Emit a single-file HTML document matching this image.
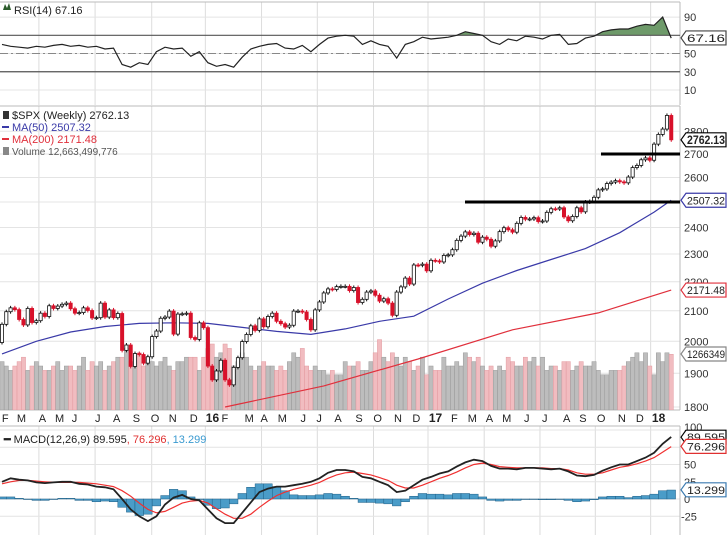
<!DOCTYPE html>
<html><head><meta charset="utf-8"><style>
html,body{margin:0;padding:0;background:#fff;}
svg{display:block;font-family:"Liberation Sans",sans-serif;}
</style></head><body>
<svg id="c" width="727" height="535" viewBox="0 0 727 535"></svg>
<script>
// ---- data ----
const closes = [2055,2097,2110,2104,2071,2053,2108,2061,2067,2092,2081,2117,2108,2116,2122,2126,2107,2092,2094,2110,2101,2076,2077,2126,2079,2103,2077,2091,1971,1988,1921,1961,1958,1931,1951,2015,2033,2075,2079,2099,2023,2089,2090,2092,2012,2006,2060,
2044,1922,1880,1907,1940,1880,1865,1918,1948,1999,2022,2050,2035,2073,2047,2081,2092,2065,2057,2046,2052,2099,2099,2096,2071,2037,2103,2130,2161,2175,2173,2183,2184,2184,2169,2180,2128,2139,2164,2168,2153,2133,2141,2126,2085,2164,2182,2213,2192,2260,2259,2263,2239,
2277,2275,2271,2295,2297,2316,2351,2367,2383,2373,2378,2344,2363,2355,2329,2349,2384,2399,2391,2382,2416,2439,2432,2433,2438,2423,2425,2459,2473,2472,2477,2441,2426,2443,2477,2461,2500,2502,2519,2549,2553,2575,2581,2587,2582,2578,2602,2642,2651,2675,2683,2673,
2743,2786,2810,2872,2762];
const firstOpen = 1996;
const volumes = [11,10,9,10,11,12,9,10,11,10,9,9,10,11,9,10,10,9,10,12,9,11,10,11,9,10,11,12,12,14,11,11,13,10,12,11,10,11,12,10,9,11,11,12,12,12,9,
12,14,15,12,13,15,14,10,11,13,12,10,9,10,11,10,10,9,10,9,11,13,12,14,10,9,10,9,9,8,9,8,8,11,10,10,11,9,9,11,13,16,12,11,13,12,10,12,11,9,10,12,8,
10,9,9,12,10,10,11,10,13,12,11,12,10,9,10,9,10,9,12,11,10,10,12,11,12,10,12,9,10,10,9,11,11,9,10,11,10,10,11,9,8,8,9,9,9,10,11,12,13,11,13,10,
8,13,11,13,12.66];
const ma50Weeks = [0,8,16,24,32,40,48,56,64,72,80,88,96,104,112,120,128,136,144,152,156];
const ma50Vals = [1960,2000,2030,2048,2058,2060,2058,2045,2032,2022,2040,2065,2082,2140,2195,2240,2280,2320,2380,2460,2507];
const ma200Weeks = [52,75,97,119,139,156];
const ma200Vals = [1800,1862,1944,2037,2093,2171];
// sampled every 2 weeks (last sample = final week)
const rsiVals = [60,58,57,56,58,57,59,60,58,59,57,58,55,56,38,35,40,38,52,57,55,56,47,52,
40,36,38,35,46,55,58,60,61,56,55,59,52,60,67,69,70,69,60,64,60,58,45,60,63,68,66,
67,68,70,74,72,70,63,60,66,64,69,68,66,70,71,60,61,67,69,74,76,77,77,80,82,81,90,67];
const macdVals = [25,30,28,27,24,23,24,25,25,22,21,18,17,14,0,-15,-25,-32,-25,-8,2,6,0,-2,-15,-28,-35,-35,-20,-5,10,15,18,18,20,22,25,30,38,42,42,40,32,30,25,20,10,12,20,28,32,37,40,47,53,57,55,48,44,44,43,45,45,44,43,44,40,34,33,35,41,46,50,50,55,60,67,80,90];
const signalVals = [22,25,27,27,26,25,24,24,24,24,23,22,20,18,12,4,-6,-15,-20,-18,-12,-6,-3,-2,-6,-14,-22,-28,-28,-22,-12,-3,5,10,14,17,20,24,30,35,38,39,37,35,31,27,20,16,16,20,25,30,34,39,45,50,52,50,47,46,45,45,45,45,44,44,42,38,36,36,38,42,46,48,51,55,60,68,76];
const histVals = [3,3,1,0,-2,-2,0,1,1,-2,-2,-4,-3,-4,-12,-19,-24,-22,-10,5,14,12,3,0,-9,-14,-13,-7,8,17,22,22,18,12,6,5,5,6,8,7,4,1,-5,-5,-6,-7,-10,-4,4,8,7,7,6,8,8,7,3,-2,-3,-2,-2,0,0,-1,-1,0,-2,-4,-3,-1,3,4,4,2,4,5,7,12,13];
const priceTicks = [2800,2700,2600,2400,2300,2200,2100,2000,1900,1800];
const rsiTicks = [90,50,30,10];
const macdTicks = [100,50,25,0,-25];
const monthLabels = ["F","M","A","M","J","J","A","S","O","N","D","16","F","M","A","M","J","J","A","S","O","N","D","17","F","M","A","M","J","J","A","S","O","N","D","18"];
const monthWeeks = [0.2,3.7,8.8,12.6,16.5,21.9,26.1,30.7,34.9,39.1,44,47.5,51.4,56.8,60.5,64.5,69.8,73.5,77.7,82.6,86.8,91.6,95.9,99.5,104.9,108.8,113,116.8,121.9,126.1,131,134.8,138.9,143.8,148,151.5];
const quarterWeeks = [8.6,21.7,34.9,47.4,60.5,73.5,86.6,99.3,112.4,125.4,138.3,151.2];

// ---- axes ----
const X0=2, DX=4.29, PR=680;
const xw = w => X0 + w*DX;
const yP = p => 407 - 624*Math.log(p/1800);
const yR = v => 99.1 - 0.911*v;
const yM = v => 499 - 0.69*v;
const yV = v => 410 - v*4.4;
const sampleWeek = k => Math.min(2*k, closes.length-1);

const NS="http://www.w3.org/2000/svg", svg=document.getElementById('c');
function mk(tag, attrs, parent){const e=document.createElementNS(NS,tag);for(const k in attrs)e.setAttribute(k,attrs[k]);(parent||svg).appendChild(e);return e;}
function txt(s,attrs,parent){const e=mk('text',attrs,parent);e.textContent=s;return e;}

// clip paths
const defs=mk('defs',{});
const cp1=mk('clipPath',{id:'cpP'},defs);mk('rect',{x:0,y:106,width:PR,height:304},cp1);
const cp2=mk('clipPath',{id:'cpR'},defs);mk('rect',{x:0,y:2,width:PR,height:103},cp2);
const cp3=mk('clipPath',{id:'cpM'},defs);mk('rect',{x:0,y:426,width:PR,height:109},cp3);
const cp4=mk('clipPath',{id:'cpA'},defs);mk('rect',{x:0,y:0,width:PR,height:yR(70)},cp4);

// vertical grid
const vg=mk('g',{stroke:'#dcdcdc','stroke-width':1});

quarterWeeks.forEach(w=>{[[2,105],[106,410],[426,535]].forEach(r=>mk('line',{x1:xw(w),x2:xw(w),y1:r[0],y2:r[1]},vg));});

// horizontal grid
const hg=mk('g',{stroke:'#e4e4e4','stroke-width':1});

priceTicks.forEach(p=>mk('line',{x1:0,x2:PR,y1:yP(p),y2:yP(p)},hg));
mk('line',{x1:0,x2:PR,y1:yP(2500),y2:yP(2500)},hg);
rsiTicks.forEach(v=>mk('line',{x1:0,x2:PR,y1:yR(v),y2:yR(v)},hg));
macdTicks.forEach(v=>mk('line',{x1:0,x2:PR,y1:yM(v),y2:yM(v)},hg));
mk('line',{x1:0,x2:PR,y1:yM(75),y2:yM(75)},hg);

// panel borders
[[2,105],[106,410],[426,535]].forEach(r=>{mk('line',{x1:0,x2:PR,y1:r[0],y2:r[0],stroke:'#bbb'});mk('line',{x1:PR,x2:PR,y1:r[0],y2:r[1],stroke:'#bbb'});});
mk('line',{x1:0,x2:PR,y1:410,y2:410,stroke:'#bbb'});

// ---- RSI ----
const rg=mk('g',{'clip-path':'url(#cpR)'});

let rp=rsiVals.map((v,k)=>xw(sampleWeek(k)).toFixed(1)+','+yR(v).toFixed(1)).join(' L');
const area=mk('path',{d:'M'+xw(0)+','+yR(70)+' L'+rp+' L'+xw(closes.length-1)+','+yR(70)+'Z',fill:'#6e9a6a',stroke:'none','clip-path':'url(#cpA)'},rg);

mk('line',{x1:0,x2:PR,y1:yR(70),y2:yR(70),stroke:'#555','stroke-width':1.2},rg);
mk('line',{x1:0,x2:PR,y1:yR(30),y2:yR(30),stroke:'#555','stroke-width':1.2},rg);
mk('line',{x1:0,x2:PR,y1:yR(50),y2:yR(50),stroke:'#888','stroke-dasharray':'8,3,2,3'},rg);
const rl=mk('path',{d:'M'+rp,fill:'none',stroke:'#222','stroke-width':1.2},rg);

mk('path',{d:'M3,10 L5,4 L7,8 L9,3 L11,10Z',fill:'#2a5a2a'});
const rt=txt('RSI(14) 67.16',{x:14,y:14,'font-size':11,fill:'#222'});


// ---- Volume ----
const volG=mk('g',{'clip-path':'url(#cpP)'});

volumes.forEach((v,i)=>{const up=closes[i]>=(i?closes[i-1]:firstOpen);
 const b=mk('rect',{x:xw(i)-2.1,y:yV(v),width:4.2,height:410-yV(v),fill:up?'#bdbdbd':'#f1bcc0',stroke:up?'#9a9a9a':'#e39aa0','stroke-width':0.5},volG);
 });

// ---- MAs ----
const maG=mk('g',{'clip-path':'url(#cpP)',fill:'none'});
const m50=mk('path',{d:'M'+ma50Vals.map((v,k)=>xw(ma50Weeks[k]).toFixed(1)+','+yP(v).toFixed(1)).join(' L'),stroke:'#3a3aa8','stroke-width':1.2},maG);

const m200=mk('path',{d:'M'+ma200Vals.map((v,k)=>xw(ma200Weeks[k]).toFixed(1)+','+yP(v).toFixed(1)).join(' L'),stroke:'#e0303c','stroke-width':1.2},maG);


// ---- Candles ----
const cg=mk('g',{'clip-path':'url(#cpP)'});

closes.forEach((c,i)=>{const o=i?closes[i-1]:firstOpen;const up=c>=o;
 const y1=yP(Math.max(o,c)),y2=yP(Math.min(o,c));const col=up?'#111':'#d8112a';
 mk('line',{x1:xw(i),x2:xw(i),y1:y1-2,y2:y2+2,stroke:col,'stroke-width':1},cg);
 const r=mk('rect',{x:xw(i)-1.6,y:y1,width:3.2,height:Math.max(1,y2-y1),fill:up?'#fff':col,stroke:col,'stroke-width':0.8},cg);
 });

// horizontal resistance lines
const h1=mk('line',{x1:601,x2:PR,y1:yP(2700),y2:yP(2700),stroke:'#000','stroke-width':3});

const h2=mk('line',{x1:465,x2:PR,y1:yP(2500),y2:yP(2500),stroke:'#000','stroke-width':3});


// price legend
const lg=mk('g',{'font-size':11});

mk('rect',{x:3,y:111,width:6,height:8,fill:'#333'},lg);
txt('$SPX (Weekly) 2762.13',{x:12,y:119,fill:'#222'},lg);
mk('rect',{x:2,y:126,width:7,height:2,fill:'#3a3aa8'},lg);
txt('MA(50) 2507.32',{x:12,y:131,fill:'#3a3aa8'},lg);
mk('rect',{x:2,y:138,width:7,height:2,fill:'#e0303c'},lg);
txt('MA(200) 2171.48',{x:12,y:143,fill:'#e0303c'},lg);
mk('rect',{x:3,y:147,width:6,height:8,fill:'#888'},lg);
txt('Volume 12,663,499,776',{x:12,y:155,fill:'#555','font-size':10},lg);

// price axis
const pa=mk('g',{'font-size':11,fill:'#333'});

priceTicks.forEach(p=>txt(String(p),{x:684,y:yP(p)+4},pa));
function tag(label,y,color,name,bold){const g=mk('g',{});
 mk('path',{d:`M681,${y} L686,${y-7} L726,${y-7} L726,${y+7} L686,${y+7}Z`,fill:'#fff',stroke:color,'stroke-width':1.2},g);
 txt(label,{x:687,y:y+4,'font-size':bold?12:11,'font-weight':bold?'bold':'normal',fill:'#222',textLength:38,lengthAdjust:'spacingAndGlyphs'},g);}
tag('2762.13',yP(2762),'#000','last-price-tag',true);
tag('2507.32',yP(2507),'#3a3aa8','ma50-tag');
tag('2171.48',yP(2171),'#e0303c','ma200-tag');
tag('1266349',354,'#888','volume-tag');
// rsi axis
rsiTicks.forEach(v=>txt(String(v),{x:684,y:yR(v)+4,'font-size':11,fill:'#333'}));
tag('67.16',yR(67.16),'#444','rsi-tag');

// date axis
const da=mk('g',{'font-size':11,fill:'#222'});

monthLabels.forEach((m,k)=>{const yr=m.length===2;txt(m,{x:xw(monthWeeks[k])-(yr?0:1),y:422,'font-weight':yr?'bold':'normal','font-size':yr?12:11},da);});

// ---- MACD ----
const mg=mk('g',{'clip-path':'url(#cpM)'});

histVals.forEach((v,k)=>{const w=sampleWeek(k);const y=yM(Math.max(v,0)),h=Math.abs(yM(v)-yM(0));
 const b=mk('rect',{x:xw(w)-4.3,y:y,width:8.6,height:Math.max(h,0.5),fill:'#4a9cc8',stroke:'#1f5f86','stroke-width':0.5},mg);
 });
const sl=mk('path',{d:'M'+signalVals.map((v,k)=>xw(sampleWeek(k)).toFixed(1)+','+yM(v).toFixed(1)).join(' L'),fill:'none',stroke:'#f03030','stroke-width':1.2},mg);

const ml=mk('path',{d:'M'+macdVals.map((v,k)=>xw(sampleWeek(k)).toFixed(1)+','+yM(v).toFixed(1)).join(' L'),fill:'none',stroke:'#222','stroke-width':1.8},mg);

const mt=mk('text',{x:4,y:443,'font-size':11,fill:'#222'});

mt.innerHTML='<tspan font-weight="bold">━</tspan> MACD(12,26,9) 89.595<tspan fill="#e03030">, 76.296</tspan><tspan fill="#3a9ad0">, 13.299</tspan>';
macdTicks.forEach(v=>{if(v!==100)txt(String(v),{x:v<0?681:684,y:yM(v)+4,'font-size':11,fill:'#333'});});
txt('100',{x:684,y:431,'font-size':11,fill:'#333'});
tag('89.595',yM(89.6),'#000','macd-tag');
tag('76.296',yM(76.3),'#e03030','signal-tag');
tag('13.299',yM(13.3),'#3a7ab0','histogram-tag');
</script>
</body></html>
